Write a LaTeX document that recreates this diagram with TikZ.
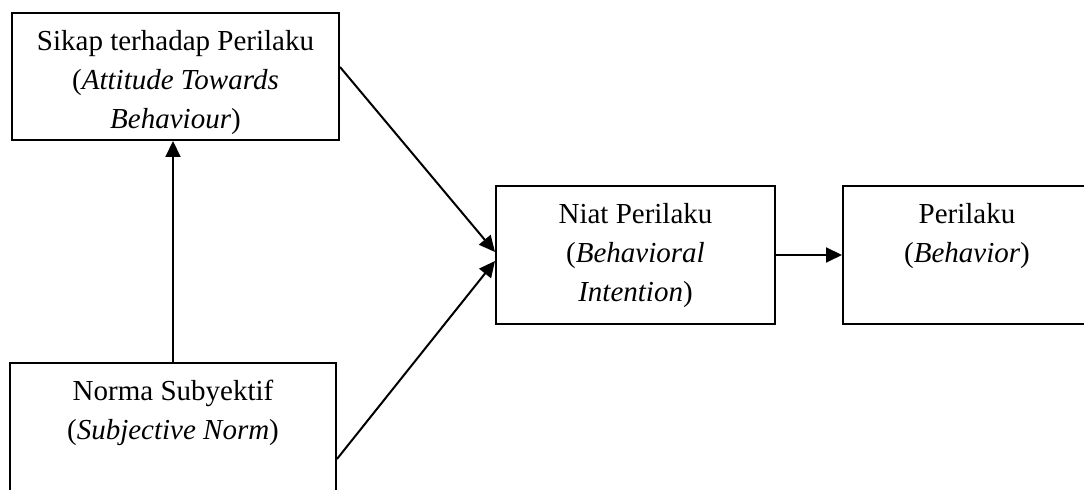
\documentclass[tikz,border=0pt]{standalone}
\usepackage{fontspec}
\setmainfont{Liberation Serif}
\usetikzlibrary{arrows.meta}
\usetikzlibrary{positioning}

\begin{document}
\begin{tikzpicture}[x=0.5pt,y=-0.5pt,->,>={Triangle[length=8pt,width=7.5pt]},line width=1pt,font=\fontsize{14.5}{19.5}\selectfont]
\tikzstyle{b}=[rectangle,draw,line width=1pt,inner sep=0pt]
\tikzstyle{t}=[anchor=north,inner sep=0pt,yshift=-8.6pt,align=center]
\useasboundingbox (0,0) rectangle (1084,490);
\clip (0,0) rectangle (1084,490);
\node[b, minimum width=163.5pt, minimum height=63.5pt, label={[t]north:{Sikap terhadap Perilaku\\(\textit{Attitude Towards}\\\textit{Behaviour})}}] (sikap) at (175.5,76.5) {};
\node[b, minimum width=163pt, minimum height=69pt, label={[t]north:{Norma Subyektif\\(\textit{Subjective Norm})}}] (norma) [below = 110.5pt of sikap, xshift=-1.25pt] {};
\node[b, minimum width=139.5pt, minimum height=69pt, label={[t]north:{Niat Perilaku\\(\textit{Behavioral}\\\textit{Intention})}}] (niat) at (635.5,255) {};
\node[b, minimum width=124pt, minimum height=69pt, label={[t]north:{Perilaku\\(\textit{Behavior})}}] (perilaku) [right = 33pt of niat] {};
\draw (norma.north) -- (norma.north |- sikap.south);
\draw ([yshift=4.75pt]sikap.east) -- ([yshift=1.5pt]niat.west);
\draw ([yshift=-13.5pt]norma.east) -- ([yshift=-3pt]niat.west);
\draw (niat.east) -- (niat.east -| perilaku.west);
\end{tikzpicture}
\end{document}
